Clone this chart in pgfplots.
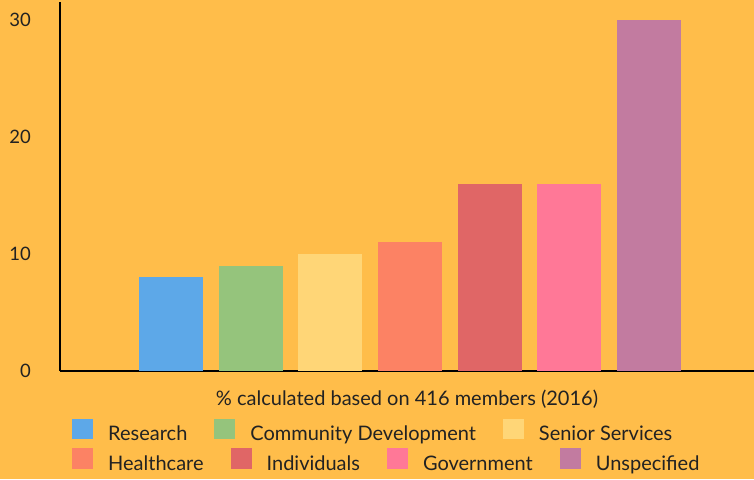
\documentclass[border=0pt]{standalone}
\usepackage{fontspec}
\setmainfont{Lato}
\usepackage{pgfplots}
\pgfplotsset{compat=1.18}
\definecolor{bg}{HTML}{FFBD4A}
\definecolor{c1}{HTML}{5DA8E8}
\definecolor{c2}{HTML}{95C47C}
\definecolor{c3}{HTML}{FFD677}
\definecolor{c4}{HTML}{FC8264}
\definecolor{c5}{HTML}{E06666}
\definecolor{c6}{HTML}{FF7897}
\definecolor{c7}{HTML}{C27BA0}
\definecolor{txt}{HTML}{222222}
\newcommand{\lfont}{\fontsize{20}{23}\selectfont}
\newcommand{\tfont}{\fontsize{18.5}{21}\selectfont}
\pgfplotsset{
  mylegend/.style={
    legend columns=-1,
    legend style={draw=none, fill=none, inner sep=0pt, font=\lfont, text=txt,
      nodes={inner sep=0pt},
      /tikz/every odd column/.append style={column sep=15pt},
      /tikz/every even column/.append style={column sep=27pt}},
    legend image code/.code={\draw[##1,draw=none] (0pt,-5pt) rectangle (21pt,15.5pt);},
  }
}
\begin{document}
\begin{tikzpicture}
\fill[bg] (-60pt,-108pt) rectangle (694pt,371pt);
\begin{axis}[at={(0pt,0pt)}, anchor=south west, scale only axis,
  width=694pt, height=369pt,
  xmin=-1.393, xmax=7.318, ymin=0, ymax=31.54,
  axis x line*=bottom, axis y line*=left,
  axis line style={-},
  x axis line style={line width=2pt},
  y axis line style={line width=1.2pt},
  xtick=\empty, ytick={0,10,20,30}, major tick length=0pt,
  /pgf/number format/assume math mode=true,
  yticklabel style={font=\tfont, text=txt, anchor=east, inner sep=0pt, xshift=-29pt},
  xlabel={\% calculated based on 416 members (2016)},
  xlabel style={at={(axis description cs:0.5,-0.076)}, anchor=center, font=\lfont, text=txt},
  mylegend,
  legend style={at={(axis description cs:0.0173,-0.161)}, anchor=west},
  clip=false,
]
\addplot[ybar, bar width=64pt, bar shift=0pt, fill=c1, draw=none] coordinates {(0,8)};
\addplot[ybar, bar width=64pt, bar shift=0pt, fill=c2, draw=none] coordinates {(1,9)};
\addplot[ybar, bar width=64pt, bar shift=0pt, fill=c3, draw=none] coordinates {(2,10)};
\addplot[ybar, bar width=64pt, bar shift=0pt, fill=c4, draw=none] coordinates {(3,11)};
\addplot[ybar, bar width=64pt, bar shift=0pt, fill=c5, draw=none] coordinates {(4,16)};
\addplot[ybar, bar width=64pt, bar shift=0pt, fill=c6, draw=none] coordinates {(5,16)};
\addplot[ybar, bar width=64pt, bar shift=0pt, fill=c7, draw=none] coordinates {(6,30)};
\legend{Research, Community Development, Senior Services}
\end{axis}
\begin{axis}[at={(0pt,0pt)}, anchor=south west, scale only axis,
  width=694pt, height=369pt, hide axis,
  xmin=0, xmax=1, ymin=0, ymax=1,
  mylegend,
  legend style={at={(axis description cs:0.0173,-0.242)}, anchor=west},
]
\addlegendimage{fill=c4, draw=none}
\addlegendentry{Healthcare}
\addlegendimage{fill=c5, draw=none}
\addlegendentry{Individuals}
\addlegendimage{fill=c6, draw=none}
\addlegendentry{Government}
\addlegendimage{fill=c7, draw=none}
\addlegendentry{Unspecified}
\end{axis}
\pgfresetboundingbox
\path (-60pt,-108pt) rectangle (694pt,371pt);
\end{tikzpicture}
\end{document}
